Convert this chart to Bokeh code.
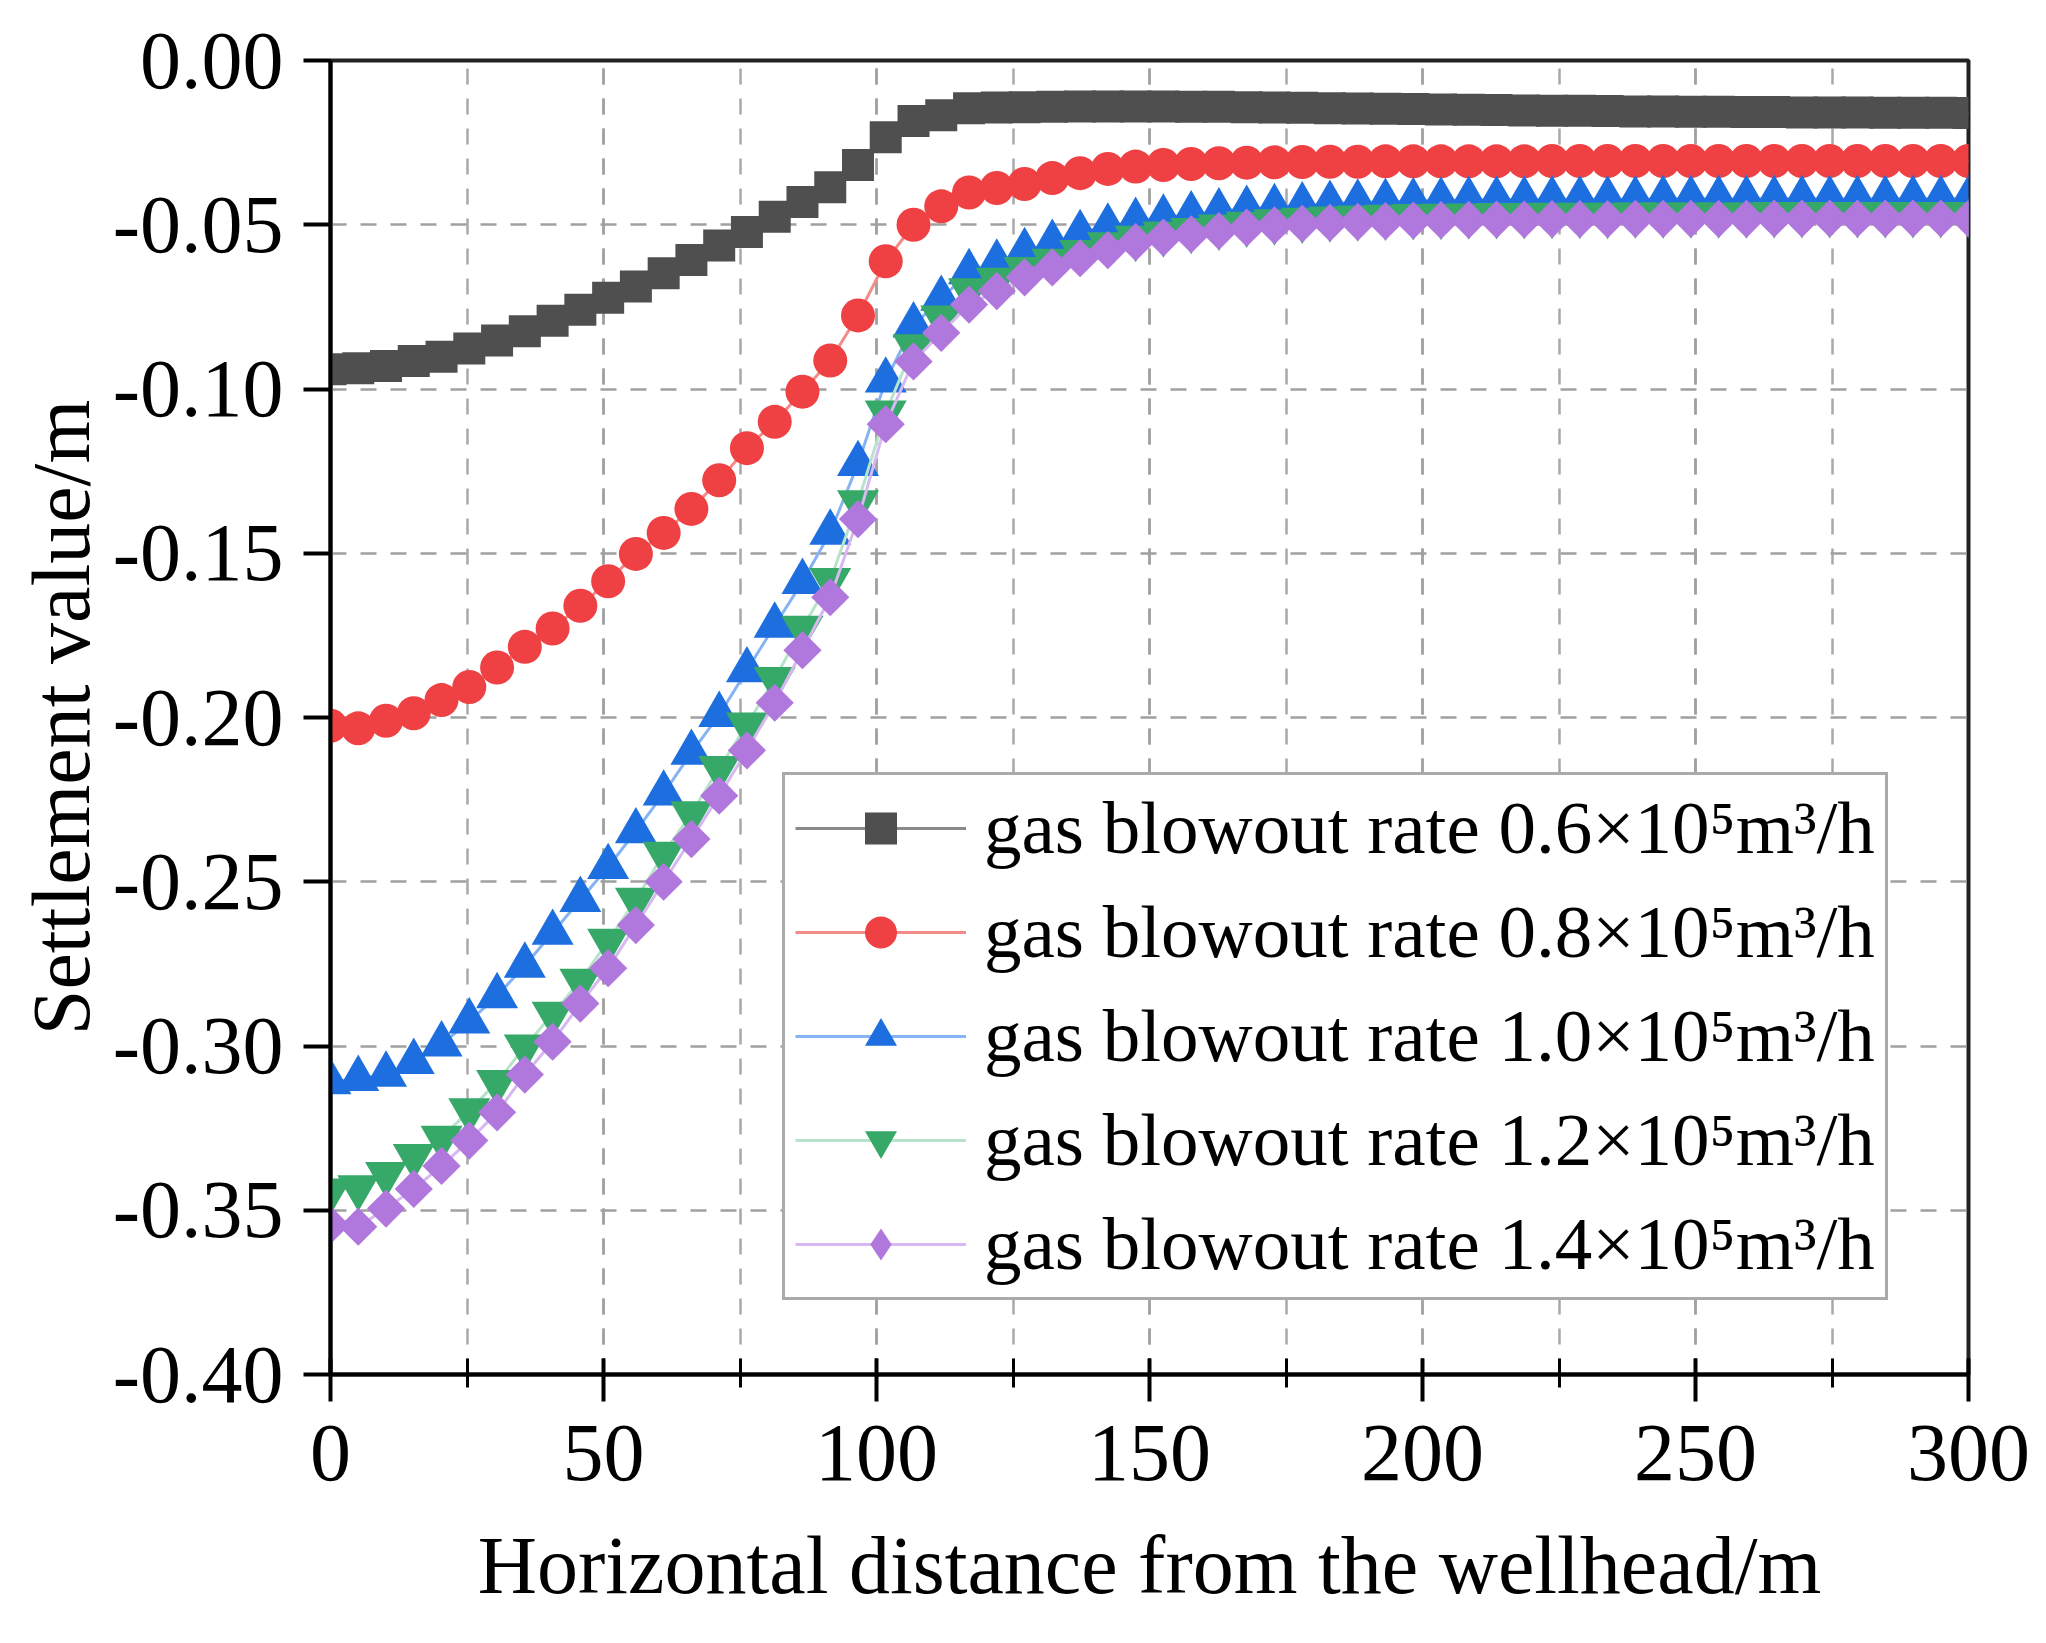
import numpy as np
from bokeh.plotting import figure
from bokeh.models import (Range1d, SingleIntervalTicker, FixedTicker, PrintfTickFormatter,
                          Legend, LegendItem, ColumnDataSource)
from bokeh.embed import file_html
from bokeh.resources import INLINE

# horizontal distance from the wellhead (m)
distance = [0, 5.08, 10.17, 15.25, 20.34, 25.42, 30.51, 35.59, 40.68, 45.76,
            50.85, 55.93, 61.02, 66.10, 71.19, 76.27, 81.36, 86.44, 91.53, 96.61,
            101.69, 106.78, 111.86, 116.95, 122.03, 127.12, 132.20, 137.29, 142.37, 147.46,
            152.54, 157.63, 162.71, 167.80, 172.88, 177.97, 183.05, 188.14, 193.22, 198.31,
            203.39, 208.47, 213.56, 218.64, 223.73, 228.81, 233.90, 238.98, 244.07, 249.15,
            254.24, 259.32, 264.41, 269.49, 274.58, 279.66, 284.75, 289.83, 294.92, 300]

# settlement values (m)
rate_06 = [-0.0940, -0.0937, -0.0930, -0.0915, -0.0902, -0.0877, -0.0852, -0.0824, -0.0792, -0.0759,
           -0.0722, -0.0688, -0.0648, -0.0607, -0.0563, -0.0522, -0.0476, -0.0431, -0.0386, -0.0318,
           -0.0234, -0.0184, -0.0167, -0.0145, -0.0143, -0.0142, -0.0141, -0.0140, -0.0140, -0.0140,
           -0.0140, -0.0141, -0.0141, -0.0142, -0.0143, -0.0144, -0.0145, -0.0146, -0.0147, -0.0148,
           -0.0149, -0.0150, -0.0151, -0.0152, -0.0153, -0.0153, -0.0154, -0.0155, -0.0155, -0.0156,
           -0.0156, -0.0157, -0.0157, -0.0158, -0.0158, -0.0158, -0.0159, -0.0159, -0.0159, -0.0160]

rate_08 = [-0.2025, -0.2033, -0.2010, -0.1987, -0.1947, -0.1907, -0.1848, -0.1785, -0.1729, -0.1660,
           -0.1585, -0.1502, -0.1438, -0.1365, -0.1278, -0.1180, -0.1100, -0.1008, -0.0913, -0.0776,
           -0.0611, -0.0500, -0.0444, -0.0402, -0.0388, -0.0376, -0.0358, -0.0343, -0.0330, -0.0323,
           -0.0318, -0.0315, -0.0313, -0.0311, -0.0310, -0.0309, -0.0308, -0.0308, -0.0307, -0.0307,
           -0.0307, -0.0307, -0.0307, -0.0307, -0.0306, -0.0306, -0.0306, -0.0306, -0.0306, -0.0306,
           -0.0306, -0.0306, -0.0306, -0.0306, -0.0306, -0.0306, -0.0306, -0.0306, -0.0306, -0.0306]

rate_10 = [-0.3110, -0.3100, -0.3087, -0.3048, -0.2995, -0.2925, -0.2848, -0.2755, -0.2655, -0.2555,
           -0.2455, -0.2346, -0.2231, -0.2107, -0.1992, -0.1856, -0.1720, -0.1587, -0.1437, -0.1228,
           -0.0974, -0.0806, -0.0725, -0.0644, -0.0615, -0.0580, -0.0555, -0.0525, -0.0505, -0.0488,
           -0.0478, -0.0468, -0.0459, -0.0451, -0.0446, -0.0441, -0.0436, -0.0432, -0.0430, -0.0428,
           -0.0426, -0.0424, -0.0423, -0.0423, -0.0422, -0.0422, -0.0422, -0.0422, -0.0421, -0.0421,
           -0.0421, -0.0421, -0.0421, -0.0421, -0.0421, -0.0421, -0.0421, -0.0421, -0.0421, -0.0421]

rate_12 = [-0.3440, -0.3430, -0.3390, -0.3335, -0.3280, -0.3196, -0.3110, -0.3002, -0.2902, -0.2802,
           -0.2680, -0.2555, -0.2415, -0.2292, -0.2154, -0.2022, -0.1883, -0.1727, -0.1582, -0.1345,
           -0.1072, -0.0870, -0.0783, -0.0700, -0.0668, -0.0635, -0.0610, -0.0583, -0.0560, -0.0540,
           -0.0527, -0.0516, -0.0506, -0.0497, -0.0490, -0.0485, -0.0481, -0.0478, -0.0476, -0.0474,
           -0.0473, -0.0472, -0.0471, -0.0471, -0.0470, -0.0470, -0.0470, -0.0469, -0.0469, -0.0469,
           -0.0469, -0.0469, -0.0468, -0.0468, -0.0468, -0.0468, -0.0468, -0.0468, -0.0468, -0.0468]

rate_14 = [-0.3545, -0.3550, -0.3495, -0.3435, -0.3365, -0.3288, -0.3202, -0.3087, -0.2987, -0.2871,
           -0.2763, -0.2632, -0.2500, -0.2370, -0.2238, -0.2100, -0.1955, -0.1795, -0.1634, -0.1396,
           -0.1107, -0.0916, -0.0829, -0.0743, -0.0702, -0.0660, -0.0630, -0.0602, -0.0577, -0.0553,
           -0.0539, -0.0529, -0.0519, -0.0509, -0.0502, -0.0497, -0.0494, -0.0491, -0.0489, -0.0487,
           -0.0486, -0.0485, -0.0484, -0.0484, -0.0483, -0.0483, -0.0483, -0.0482, -0.0482, -0.0482,
           -0.0482, -0.0482, -0.0481, -0.0481, -0.0481, -0.0481, -0.0481, -0.0481, -0.0481, -0.0481]

labels = ["gas blowout rate 0.6×10⁵m³/h",
          "gas blowout rate 0.8×10⁵m³/h",
          "gas blowout rate 1.0×10⁵m³/h",
          "gas blowout rate 1.2×10⁵m³/h",
          "gas blowout rate 1.4×10⁵m³/h"]
y_ticks = [0.0, -0.05, -0.10, -0.15, -0.20, -0.25, -0.30, -0.35, -0.40]

FONT = "Liberation Serif"

p = figure(width=2030, height=1625, output_backend="svg", toolbar_location=None,
           x_range=Range1d(0, 300), y_range=Range1d(-0.40, 0.0),
           min_border_left=330, min_border_right=62, min_border_top=60, min_border_bottom=251,
           x_axis_label="Horizontal distance from the wellhead/m",
           y_axis_label="Settlement value/m")
p.background_fill_color = "white"
p.border_fill_color = "white"
p.outline_line_color = "#222222"
p.outline_line_width = 4

# axes
p.xaxis.ticker = SingleIntervalTicker(interval=50, num_minor_ticks=2)
p.yaxis.ticker = FixedTicker(ticks=y_ticks)
p.yaxis.formatter = PrintfTickFormatter(format="%.2f")
for ax in (p.xaxis, p.yaxis):
    ax.axis_line_width = 4
    ax.axis_line_color = "black"
    ax.major_tick_line_width = 4
    ax.major_tick_out = 27
    ax.major_tick_in = 0
    ax.minor_tick_line_width = 3
    ax.minor_tick_out = 13
    ax.minor_tick_in = 0
    ax.major_label_text_font = FONT
    ax.major_label_text_font_size = "82px"
    ax.major_label_text_color = "black"
    ax.axis_label_text_font = FONT
    ax.axis_label_text_font_size = "82px"
    ax.axis_label_text_font_style = "normal"
    ax.axis_label_text_color = "black"
p.yaxis.minor_tick_line_color = None
p.xaxis.major_tick_in = 16
p.xaxis.minor_tick_in = 16
p.xaxis.major_label_standoff = 24
p.xaxis.axis_label_standoff = 37
p.yaxis.major_label_standoff = 20
p.yaxis.axis_label_standoff = 3

# grid
p.xgrid.ticker = SingleIntervalTicker(interval=50, num_minor_ticks=2)
for g in (p.xgrid, p.ygrid):
    g.grid_line_color = "#a0a0a0"
    g.grid_line_width = 2.5
    g.grid_line_dash = "16 14"
p.xgrid.minor_grid_line_color = "#a8a8a8"
p.xgrid.minor_grid_line_width = 2.5
p.xgrid.minor_grid_line_dash = "16 14"

series = [
    (rate_06, "#4f4f4f", "#8a8a8a", "square", 32, 0.0),
    (rate_08, "#ef4043", "#f58a8a", "circle", 34, 0.0),
    (rate_10, "#1d6fe0", "#86b4f2", "triangle", 42, 0.0),
    (rate_12, "#36a867", "#b8e3cb", "inverted_triangle", 42, 0.0),
    (rate_14, "#b077dc", "#d7b8f2", "square", 27, np.pi / 4),
]

items = []
for (vals, mcol, lcol, marker, size, ang), lab in zip(series, labels):
    src = ColumnDataSource(dict(x=distance, y=vals))
    lr = p.line("x", "y", source=src, line_color=lcol, line_width=3)
    rs = [lr]
    if ang:
        # narrow diamond hidden under the rotated squares, used as the legend key
        rs.append(p.scatter("x", "y", source=src, marker="diamond", size=34,
                            fill_color=mcol, line_color=None))
    sr = p.scatter("x", "y", source=src, marker=marker, size=size, angle=ang,
                   fill_color=mcol, line_color=None)
    if not ang:
        rs.append(sr)
    items.append(LegendItem(label=lab, renderers=rs))

legend = Legend(items=items, location=(452, 74))
legend.label_text_font = FONT
legend.label_text_font_size = "75px"
legend.label_text_color = "black"
legend.glyph_width = 171
legend.glyph_height = 80
legend.label_standoff = 18
legend.spacing = 18
legend.padding = 10
legend.margin = 0
legend.border_line_color = "#555555"
legend.border_line_width = 3
legend.background_fill_color = "white"
legend.background_fill_alpha = 1.0
p.add_layout(legend)

open("out.html", "w").write(file_html(p, INLINE))
